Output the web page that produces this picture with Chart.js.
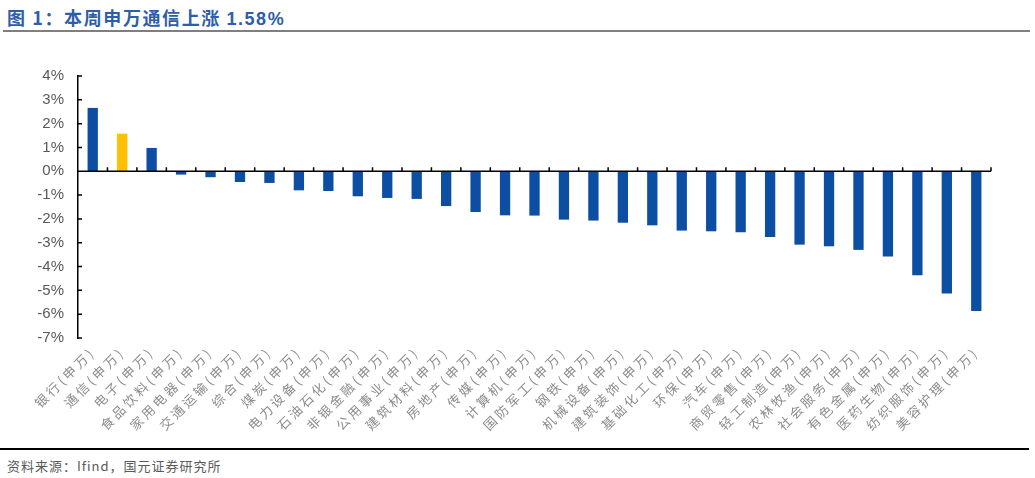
<!DOCTYPE html>
<html>
<head>
<meta charset="utf-8">
<script src="https://cdn.jsdelivr.net/npm/chart.js@4"></script>
<style>
  body { margin: 0; background: #fff; width: 1035px; height: 478px; position: relative; overflow: hidden; }
  #title { position: absolute; left: 7px; top: 4px; font: bold 18px "Noto Sans CJK SC", sans-serif; color: #2e5ea8; letter-spacing: 1.6px; white-space: nowrap; }
  #title .num { font-family: "Liberation Sans", Arial, sans-serif; letter-spacing: 1.5px; }
  #topline { position: absolute; left: 3px; top: 30px; width: 1027px; height: 2px; background: #7f7f7f; }
  #chartBox { position: absolute; left: 0; top: 0; width: 1035px; height: 440px; }
  #bottomline { position: absolute; left: 0; top: 448px; width: 1029px; height: 1.5px; background: #000; }
  #source { position: absolute; left: 7px; top: 456px; font: 13px "Noto Sans CJK SC", sans-serif; color: #595959; letter-spacing: 1px; white-space: nowrap; }
</style>
</head>
<body>
<div id="title">图 1：本周申万通信上涨 <span class="num">1.58%</span></div>
<div id="topline"></div>
<div id="chartBox"><canvas id="returnChart"></canvas></div>
<div id="bottomline"></div>
<div id="source">资料来源：Ifind，国元证券研究所</div>
<script>
const categories = ['银行(申万)', '通信(申万)', '电子(申万)', '食品饮料(申万)', '家用电器(申万)', '交通运输(申万)',
    '综合(申万)', '煤炭(申万)', '电力设备(申万)', '石油石化(申万)', '非银金融(申万)', '公用事业(申万)',
    '建筑材料(申万)', '房地产(申万)', '传媒(申万)', '计算机(申万)', '国防军工(申万)', '钢铁(申万)',
    '机械设备(申万)', '建筑装饰(申万)', '基础化工(申万)', '环保(申万)', '汽车(申万)', '商贸零售(申万)',
    '轻工制造(申万)', '农林牧渔(申万)', '社会服务(申万)', '有色金属(申万)', '医药生物(申万)', '纺织服饰(申万)',
    '美容护理(申万)'];
const weeklyReturn = [2.66, 1.58, 0.98, -0.14, -0.25, -0.45, -0.49, -0.80, -0.83, -1.05, -1.12, -1.16,
    -1.46, -1.71, -1.85, -1.86, -2.03, -2.07, -2.16, -2.27, -2.49, -2.52, -2.56, -2.76, -3.08, -3.15,
    -3.30, -3.58, -4.37, -5.13, -5.87];
const highlightName = '通信(申万)';
const yMin = -7;
const yMax = 4;

const barColors = categories.map(c => c === highlightName ? '#ffc000' : '#0b4ea2');

// zero line, category ticks and inner y ticks
const axisMarks = {
    id: 'axisMarks',
    afterDatasetsDraw(chart) {
        const { ctx, scales: { x, y } } = chart;
        const y0 = y.getPixelForValue(0);
        ctx.save();
        ctx.strokeStyle = '#000';
        ctx.lineWidth = 1.5;
        ctx.beginPath();
        ctx.moveTo(x.left, y0);
        ctx.lineTo(x.right, y0);
        for (let i = 1; i <= categories.length; i++) {
            const px = x.getPixelForValue(i - 0.5);
            ctx.moveTo(px, y0);
            ctx.lineTo(px, y0 - 4);
        }
        for (let v = yMin; v <= yMax; v++) {
            const py = y.getPixelForValue(v);
            ctx.moveTo(y.right, py);
            ctx.lineTo(y.right + 4, py);
        }
        ctx.stroke();
        ctx.restore();
        // x tick labels (ticks.z: 1) are drawn after this, with spaced letters
        ctx.letterSpacing = '3px';
    },
    afterDraw(chart) {
        chart.ctx.letterSpacing = '0px';
    }
};

const ctx = document.getElementById('returnChart').getContext('2d');
new Chart(ctx, {
    type: 'bar',
    data: {
        labels: categories,
        datasets: [{
            data: weeklyReturn,
            backgroundColor: barColors,
            barPercentage: 0.35,
            categoryPercentage: 1.0
        }]
    },
    options: {
        responsive: true,
        maintainAspectRatio: false,
        animation: false,
        layout: { padding: { left: 0, top: 76, right: 44, bottom: 0 } },
        plugins: { legend: { display: false }, tooltip: { enabled: false } },
        scales: {
            x: {
                grid: { display: false, drawTicks: false },
                border: { display: false },
                ticks: {
                    z: 1,
                    autoSkip: false,
                    minRotation: 45,
                    maxRotation: 45,
                    padding: 6,
                    color: '#8c8c8c',
                    font: { family: '"Noto Sans CJK SC", sans-serif', size: 13 }
                },
                afterFit(scale) { scale.height = 102; }
            },
            y: {
                min: yMin,
                max: yMax,
                grid: { display: false, drawTicks: false },
                border: { display: true, color: '#000', width: 1.5 },
                ticks: {
                    stepSize: 1,
                    padding: 14,
                    color: '#595959',
                    font: { family: '"Liberation Sans", Arial, sans-serif', size: 15 },
                    callback: v => v + '%'
                },
                afterFit(scale) { scale.width = 78; }
            }
        }
    },
    plugins: [axisMarks]
});
</script>
</body>
</html>
